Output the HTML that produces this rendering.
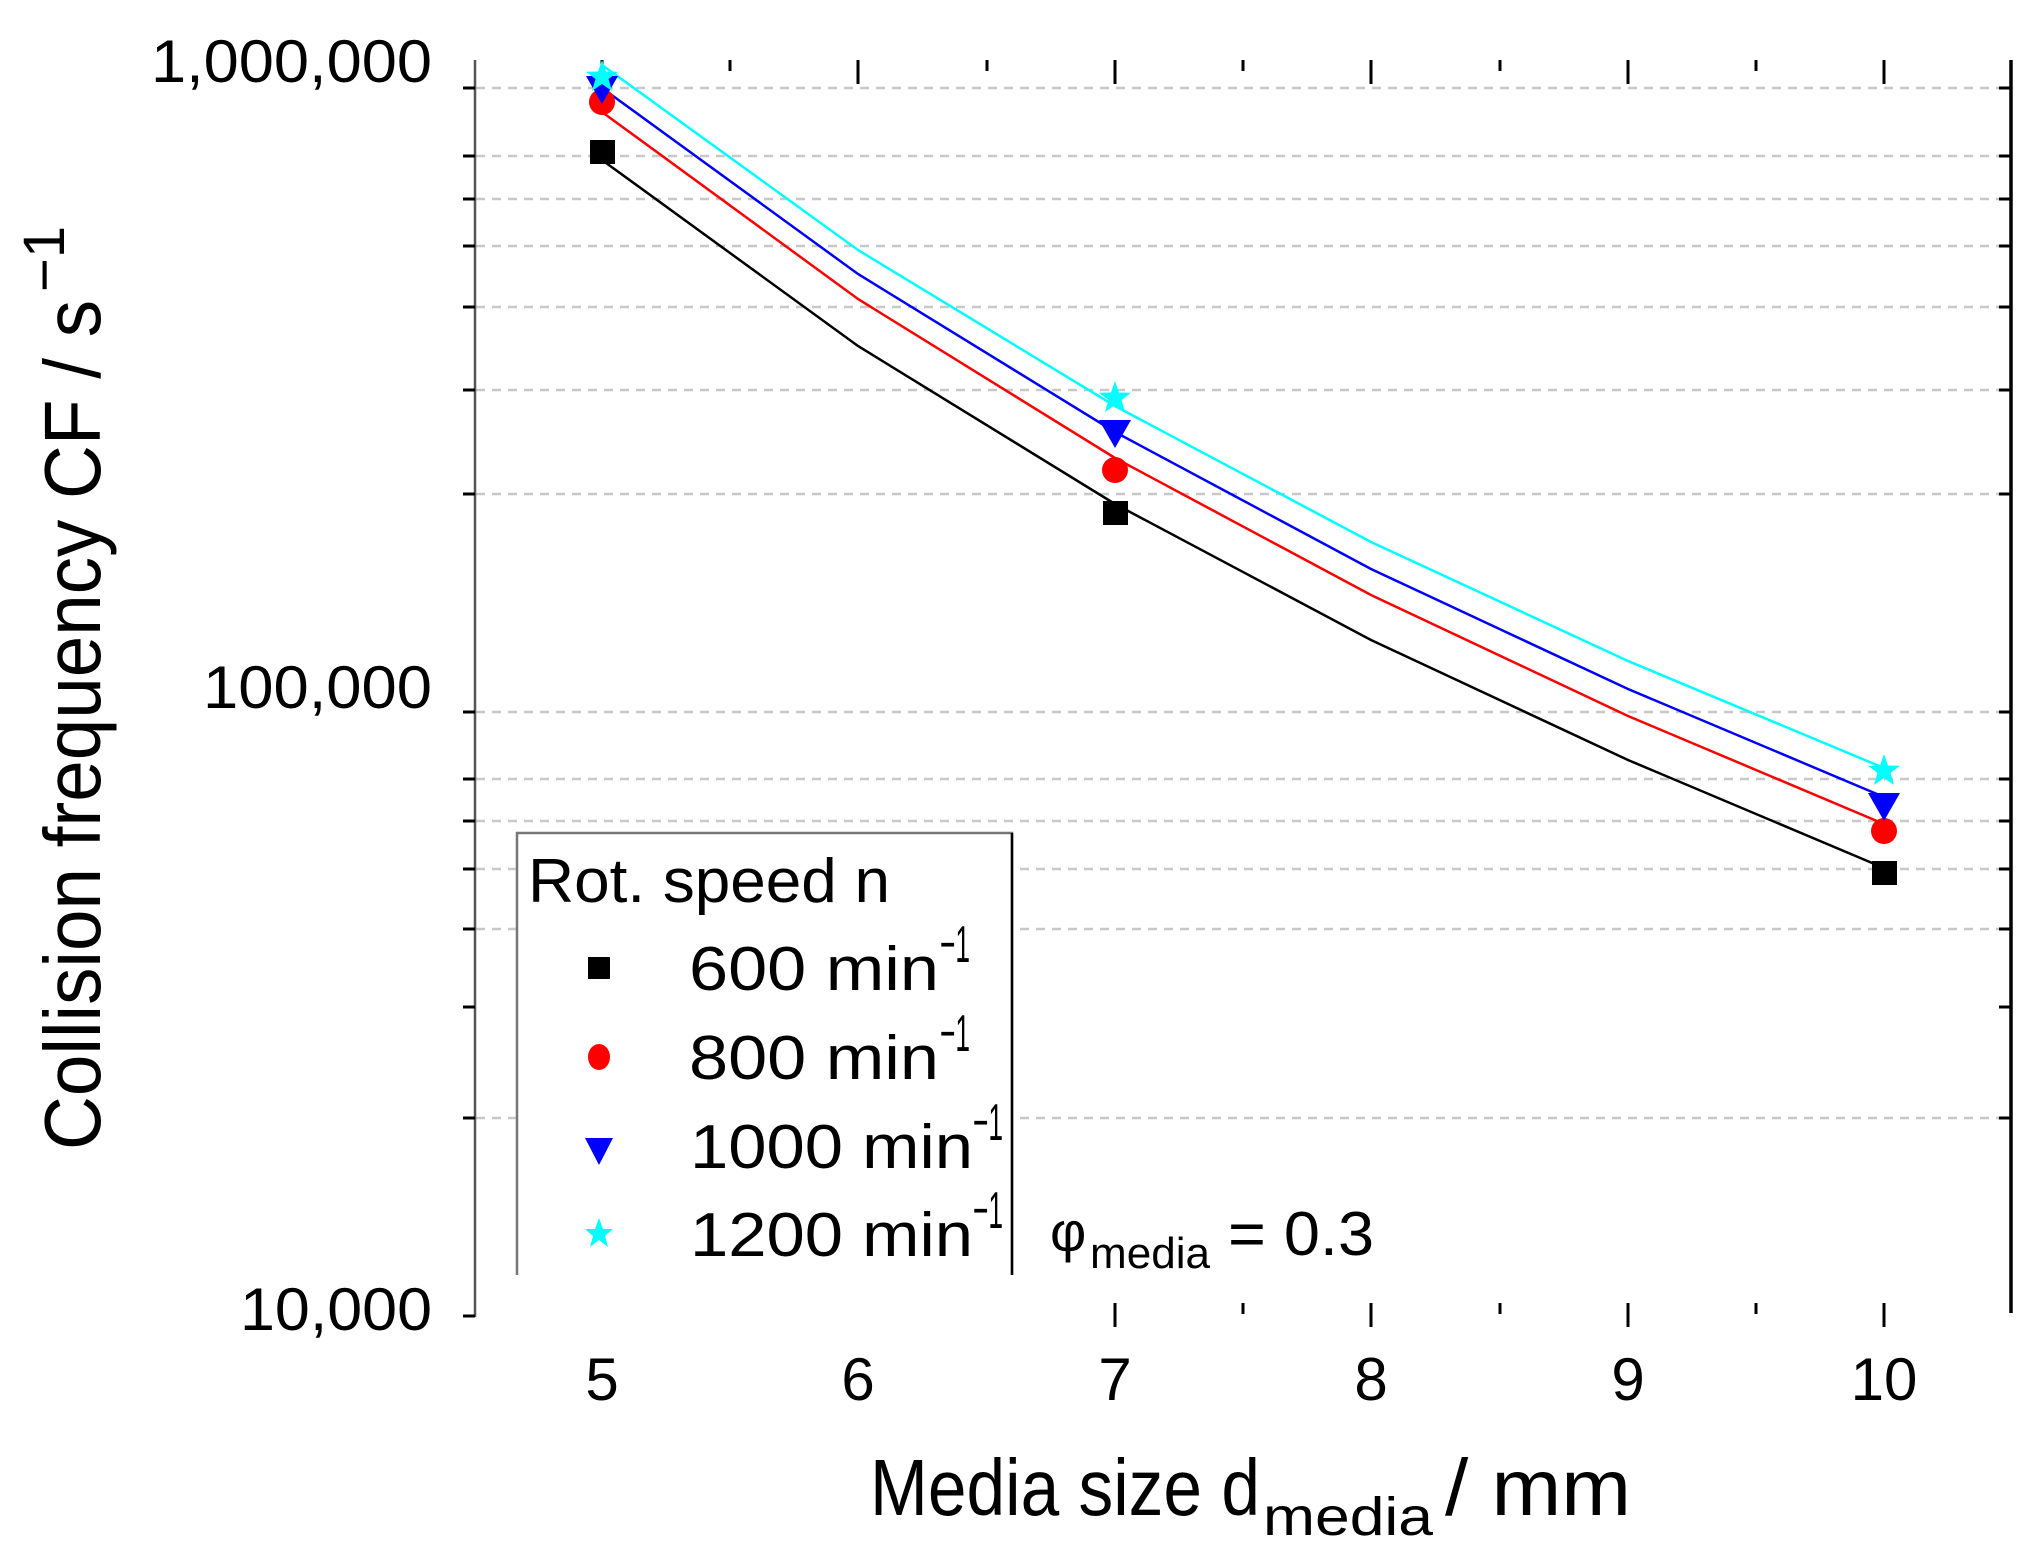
<!DOCTYPE html>
<html><head><meta charset="utf-8"><style>
html,body{margin:0;padding:0;background:#fff}
svg{display:block}
text{font-family:"Liberation Sans",sans-serif;fill:#000}
</style></head><body>
<svg width="2044" height="1568" viewBox="0 0 2044 1568" xmlns="http://www.w3.org/2000/svg">
<g stroke="#c8c8c8" stroke-width="2.5" stroke-dasharray="9,7">
<line x1="476" x2="2008" y1="88" y2="88"/>
<line x1="476" x2="2008" y1="156" y2="156"/>
<line x1="476" x2="2008" y1="199" y2="199"/>
<line x1="476" x2="2008" y1="246" y2="246"/>
<line x1="476" x2="2008" y1="307" y2="307"/>
<line x1="476" x2="2008" y1="390" y2="390"/>
<line x1="476" x2="2008" y1="494" y2="494"/>
<line x1="476" x2="2008" y1="712" y2="712"/>
<line x1="476" x2="2008" y1="779" y2="779"/>
<line x1="476" x2="2008" y1="821" y2="821"/>
<line x1="476" x2="2008" y1="869" y2="869"/>
<line x1="476" x2="2008" y1="929" y2="929"/>
<line x1="476" x2="2008" y1="1118" y2="1118"/>
</g>
<line x1="475" y1="60" x2="475" y2="1317" stroke="#555" stroke-width="2.5"/>
<line x1="2011" y1="60" x2="2011" y2="1313" stroke="#000" stroke-width="3.5"/>
<g stroke="#000" stroke-width="3">
<line x1="463" x2="475" y1="88" y2="88"/><line x1="463" x2="475" y1="156" y2="156"/><line x1="463" x2="475" y1="199" y2="199"/><line x1="463" x2="475" y1="246" y2="246"/><line x1="463" x2="475" y1="307" y2="307"/><line x1="463" x2="475" y1="390" y2="390"/><line x1="463" x2="475" y1="494" y2="494"/><line x1="463" x2="475" y1="712" y2="712"/><line x1="463" x2="475" y1="779" y2="779"/><line x1="463" x2="475" y1="821" y2="821"/><line x1="463" x2="475" y1="869" y2="869"/><line x1="463" x2="475" y1="929" y2="929"/><line x1="463" x2="475" y1="1007" y2="1007"/><line x1="463" x2="475" y1="1118" y2="1118"/><line x1="463" x2="475" y1="1316" y2="1316"/>
<line x1="1999" x2="2011" y1="88" y2="88"/><line x1="1999" x2="2011" y1="156" y2="156"/><line x1="1999" x2="2011" y1="199" y2="199"/><line x1="1999" x2="2011" y1="246" y2="246"/><line x1="1999" x2="2011" y1="307" y2="307"/><line x1="1999" x2="2011" y1="390" y2="390"/><line x1="1999" x2="2011" y1="494" y2="494"/><line x1="1999" x2="2011" y1="712" y2="712"/><line x1="1999" x2="2011" y1="779" y2="779"/><line x1="1999" x2="2011" y1="821" y2="821"/><line x1="1999" x2="2011" y1="869" y2="869"/><line x1="1999" x2="2011" y1="929" y2="929"/><line x1="1999" x2="2011" y1="1007" y2="1007"/><line x1="1999" x2="2011" y1="1118" y2="1118"/>
<line x1="602" x2="602" y1="60" y2="84"/><line x1="858" x2="858" y1="60" y2="84"/><line x1="1115" x2="1115" y1="60" y2="84"/><line x1="1371" x2="1371" y1="60" y2="84"/><line x1="1628" x2="1628" y1="60" y2="84"/><line x1="1884" x2="1884" y1="60" y2="84"/>
<line x1="730" x2="730" y1="60" y2="71"/><line x1="987" x2="987" y1="60" y2="71"/><line x1="1243" x2="1243" y1="60" y2="71"/><line x1="1500" x2="1500" y1="60" y2="71"/><line x1="1756" x2="1756" y1="60" y2="71"/>
<line x1="602" x2="602" y1="1303" y2="1327"/><line x1="858" x2="858" y1="1303" y2="1327"/><line x1="1115" x2="1115" y1="1303" y2="1327"/><line x1="1371" x2="1371" y1="1303" y2="1327"/><line x1="1628" x2="1628" y1="1303" y2="1327"/><line x1="1884" x2="1884" y1="1303" y2="1327"/>
<line x1="730" x2="730" y1="1303" y2="1314"/><line x1="987" x2="987" y1="1303" y2="1314"/><line x1="1243" x2="1243" y1="1303" y2="1314"/><line x1="1500" x2="1500" y1="1303" y2="1314"/><line x1="1756" x2="1756" y1="1303" y2="1314"/>
</g>
<g fill="none" stroke-width="2.5">
<polyline stroke="#000" points="602,160 858,346 1115,504 1371,640 1628,760 1884,868"/>
<polyline stroke="#f00" points="602,112 858,299 1115,458 1371,595 1628,716 1884,824"/>
<polyline stroke="#00f" points="602,88 858,274 1115,432 1371,569 1628,689 1884,797"/>
<polyline stroke="#0ff" points="602,65 858,250 1115,406 1371,542 1628,661 1884,768"/>
</g>
<defs>
<polygon id="star" points="0,-17 4,-5.5 16,-5.3 6.5,2 10,14 0,7 -10,14 -6.5,2 -16,-5.3 -4,-5.5" fill="#0ff"/>
<polygon id="tri" points="-16,-12 16,-12 0,16" fill="#00f"/>
</defs>
<rect x="590" y="140" width="25" height="24" fill="#000"/>
<rect x="1103" y="501" width="25" height="24" fill="#000"/>
<rect x="1872" y="861" width="25" height="24" fill="#000"/>
<circle cx="602" cy="102" r="13" fill="#f00"/><circle cx="1115" cy="470" r="13" fill="#f00"/><circle cx="1884" cy="831" r="13" fill="#f00"/>
<use href="#tri" x="602" y="88"/><use href="#tri" x="1115" y="432"/><use href="#tri" x="1884" y="805"/>
<use href="#star" x="602" y="77"/><use href="#star" x="1115" y="398"/><use href="#star" x="1884" y="771"/>
<rect x="516" y="833" width="496" height="500" fill="#fff"/>
<polyline points="517,1275 517,833 1012,833 1012,1275" fill="none" stroke="#777" stroke-width="2.5"/>
<line x1="1012" y1="833" x2="1012" y2="1275" stroke="#000" stroke-width="2.5"/>
<text x="528" y="902" font-size="62" textLength="362" lengthAdjust="spacingAndGlyphs">Rot. speed n</text>
<rect x="588" y="957" width="22" height="22" fill="#000"/>
<ellipse cx="599" cy="1057" rx="11" ry="13" fill="#f00"/>
<polygon points="585,1138 613,1138 599,1165" fill="#00f"/>
<polygon points="599,1218 603,1229 613,1229 605,1236 608,1247 599,1240 590,1247 593,1236 585,1229 595,1229" fill="#0ff"/>
<text x="689" y="990" font-size="62" textLength="250" lengthAdjust="spacingAndGlyphs">600 min</text>
<text x="940" y="962" font-size="52" textLength="30" lengthAdjust="spacingAndGlyphs">−1</text>
<text x="689" y="1079" font-size="62" textLength="250" lengthAdjust="spacingAndGlyphs">800 min</text>
<text x="940" y="1051" font-size="52" textLength="30" lengthAdjust="spacingAndGlyphs">−1</text>
<text x="690" y="1168" font-size="62" textLength="283" lengthAdjust="spacingAndGlyphs">1000 min</text>
<text x="973" y="1140" font-size="52" textLength="30" lengthAdjust="spacingAndGlyphs">−1</text>
<text x="690" y="1256" font-size="62" textLength="283" lengthAdjust="spacingAndGlyphs">1200 min</text>
<text x="973" y="1228" font-size="52" textLength="30" lengthAdjust="spacingAndGlyphs">−1</text>
<text x="1050" y="1251" font-size="56">φ</text>
<text x="1090" y="1268" font-size="44" textLength="120" lengthAdjust="spacingAndGlyphs">media</text>
<text x="1228" y="1255" font-size="62" textLength="146" lengthAdjust="spacingAndGlyphs">= 0.3</text>
<text x="432" y="82" font-size="60" text-anchor="end" textLength="281" lengthAdjust="spacingAndGlyphs">1,000,000</text>
<text x="432" y="708" font-size="60" text-anchor="end" textLength="229" lengthAdjust="spacingAndGlyphs">100,000</text>
<text x="432" y="1330" font-size="60" text-anchor="end" textLength="192" lengthAdjust="spacingAndGlyphs">10,000</text>
<g font-size="60" text-anchor="middle">
<text x="602" y="1400">5</text><text x="858" y="1400">6</text><text x="1115" y="1400">7</text><text x="1371" y="1400">8</text><text x="1628" y="1400">9</text><text x="1884" y="1400">10</text>
</g>
<text x="870" y="1515" font-size="80" textLength="390" lengthAdjust="spacingAndGlyphs">Media size d</text>
<text x="1263" y="1535" font-size="54" textLength="170" lengthAdjust="spacingAndGlyphs">media</text>
<text x="1445" y="1515" font-size="80" textLength="186" lengthAdjust="spacingAndGlyphs"> / mm</text>
<g transform="translate(100,1150) rotate(-90)">
<text x="0" y="0" font-size="80" textLength="850" lengthAdjust="spacingAndGlyphs">Collision frequency CF / s</text>
<text x="858" y="-36" font-size="58">−1</text>
</g>
</svg>
</body></html>
